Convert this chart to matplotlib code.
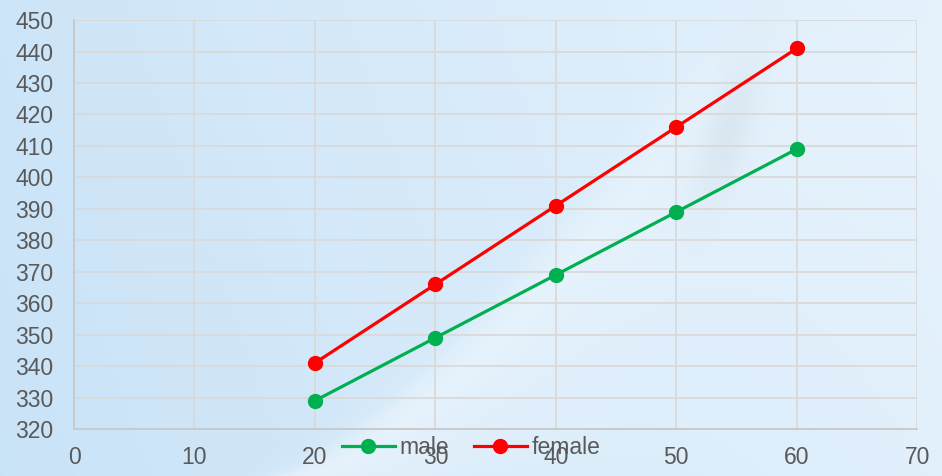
import numpy as np
import matplotlib
matplotlib.use("Agg")
import matplotlib.pyplot as plt

# values
ages = [20, 30, 40, 50, 60]
male = [329, 349, 369, 389, 409]
female = [341, 366, 391, 416, 441]

plt.rcParams['font.family'] = ['Liberation Sans', 'DejaVu Sans']

fig = plt.figure(figsize=(9.42, 4.76), dpi=100)

# background: soft blue gradient with a pale swoosh
bg = fig.add_axes([0, 0, 1, 1], zorder=-10)
X, Y = np.meshgrid(np.linspace(0, 1, 471), np.linspace(0, 1, 238))
c_left = np.array([0.79, 0.89, 0.97])
c_right = np.array([0.90, 0.95, 0.99])
t = np.clip(X * 0.85 + Y * 0.15, 0, 1)[..., None]
img = c_left * (1 - t) + c_right * t
# curved edge of the swoosh, x position as function of height
xc = 0.30 + 0.50 * Y ** 0.75
d = X - xc
glow = 1 / (1 + np.exp(-d / 0.012)) * np.exp(-np.clip(d, 0, None) / 0.18)
glow *= np.clip(1 - Y / 0.95, 0, 1) ** 0.5
img = img + (1 - img) * (0.55 * glow)[..., None]
# faint shadow strip near the upper right
sh = np.exp(-((X - 0.80 + 0.15 * (0.9 - Y)) / 0.025) ** 2) * np.exp(-((Y - 0.72) / 0.15) ** 2)
img = img - 0.04 * sh[..., None]
bg.imshow(np.clip(img, 0, 1), extent=[0, 1, 0, 1], origin="lower", aspect="auto")
bg.set_xlim(0, 1)
bg.set_ylim(0, 1)
bg.axis("off")

ax = fig.add_axes([0.0786, 0.0987, 0.895, 0.859])
ax.patch.set_alpha(0)

ax.plot(ages, male, color="#00B050", lw=2.3, marker="o", ms=10, label="male", zorder=3)
ax.plot(ages, female, color="#FF0000", lw=2.3, marker="o", ms=10, label="female", zorder=3)

ax.set_xlim(0, 70)
ax.set_ylim(320, 450)
ax.set_xticks(range(0, 71, 10))
ax.set_yticks(range(320, 451, 10))
ax.grid(True, color="#d9d9d9", lw=1.3)
ax.set_axisbelow(True)
for s in ["top", "right"]:
    ax.spines[s].set_visible(False)
for s in ["left", "bottom"]:
    ax.spines[s].set_color("#c8c8c8")
    ax.spines[s].set_linewidth(1.3)
ax.tick_params(axis="both", length=0, labelsize=16.5, labelcolor="#595959")
ax.tick_params(axis="x", pad=12)
ax.tick_params(axis="y", pad=15)

leg = fig.legend(loc="center", bbox_to_anchor=(0.5, 0.059), ncol=2, frameon=False,
                 fontsize=16.5, handlelength=2.3, handletextpad=0.2, columnspacing=1.1,
                 borderpad=0)
for txt in leg.get_texts():
    txt.set_color("#595959")

fig.savefig("out.png", dpi=100)
